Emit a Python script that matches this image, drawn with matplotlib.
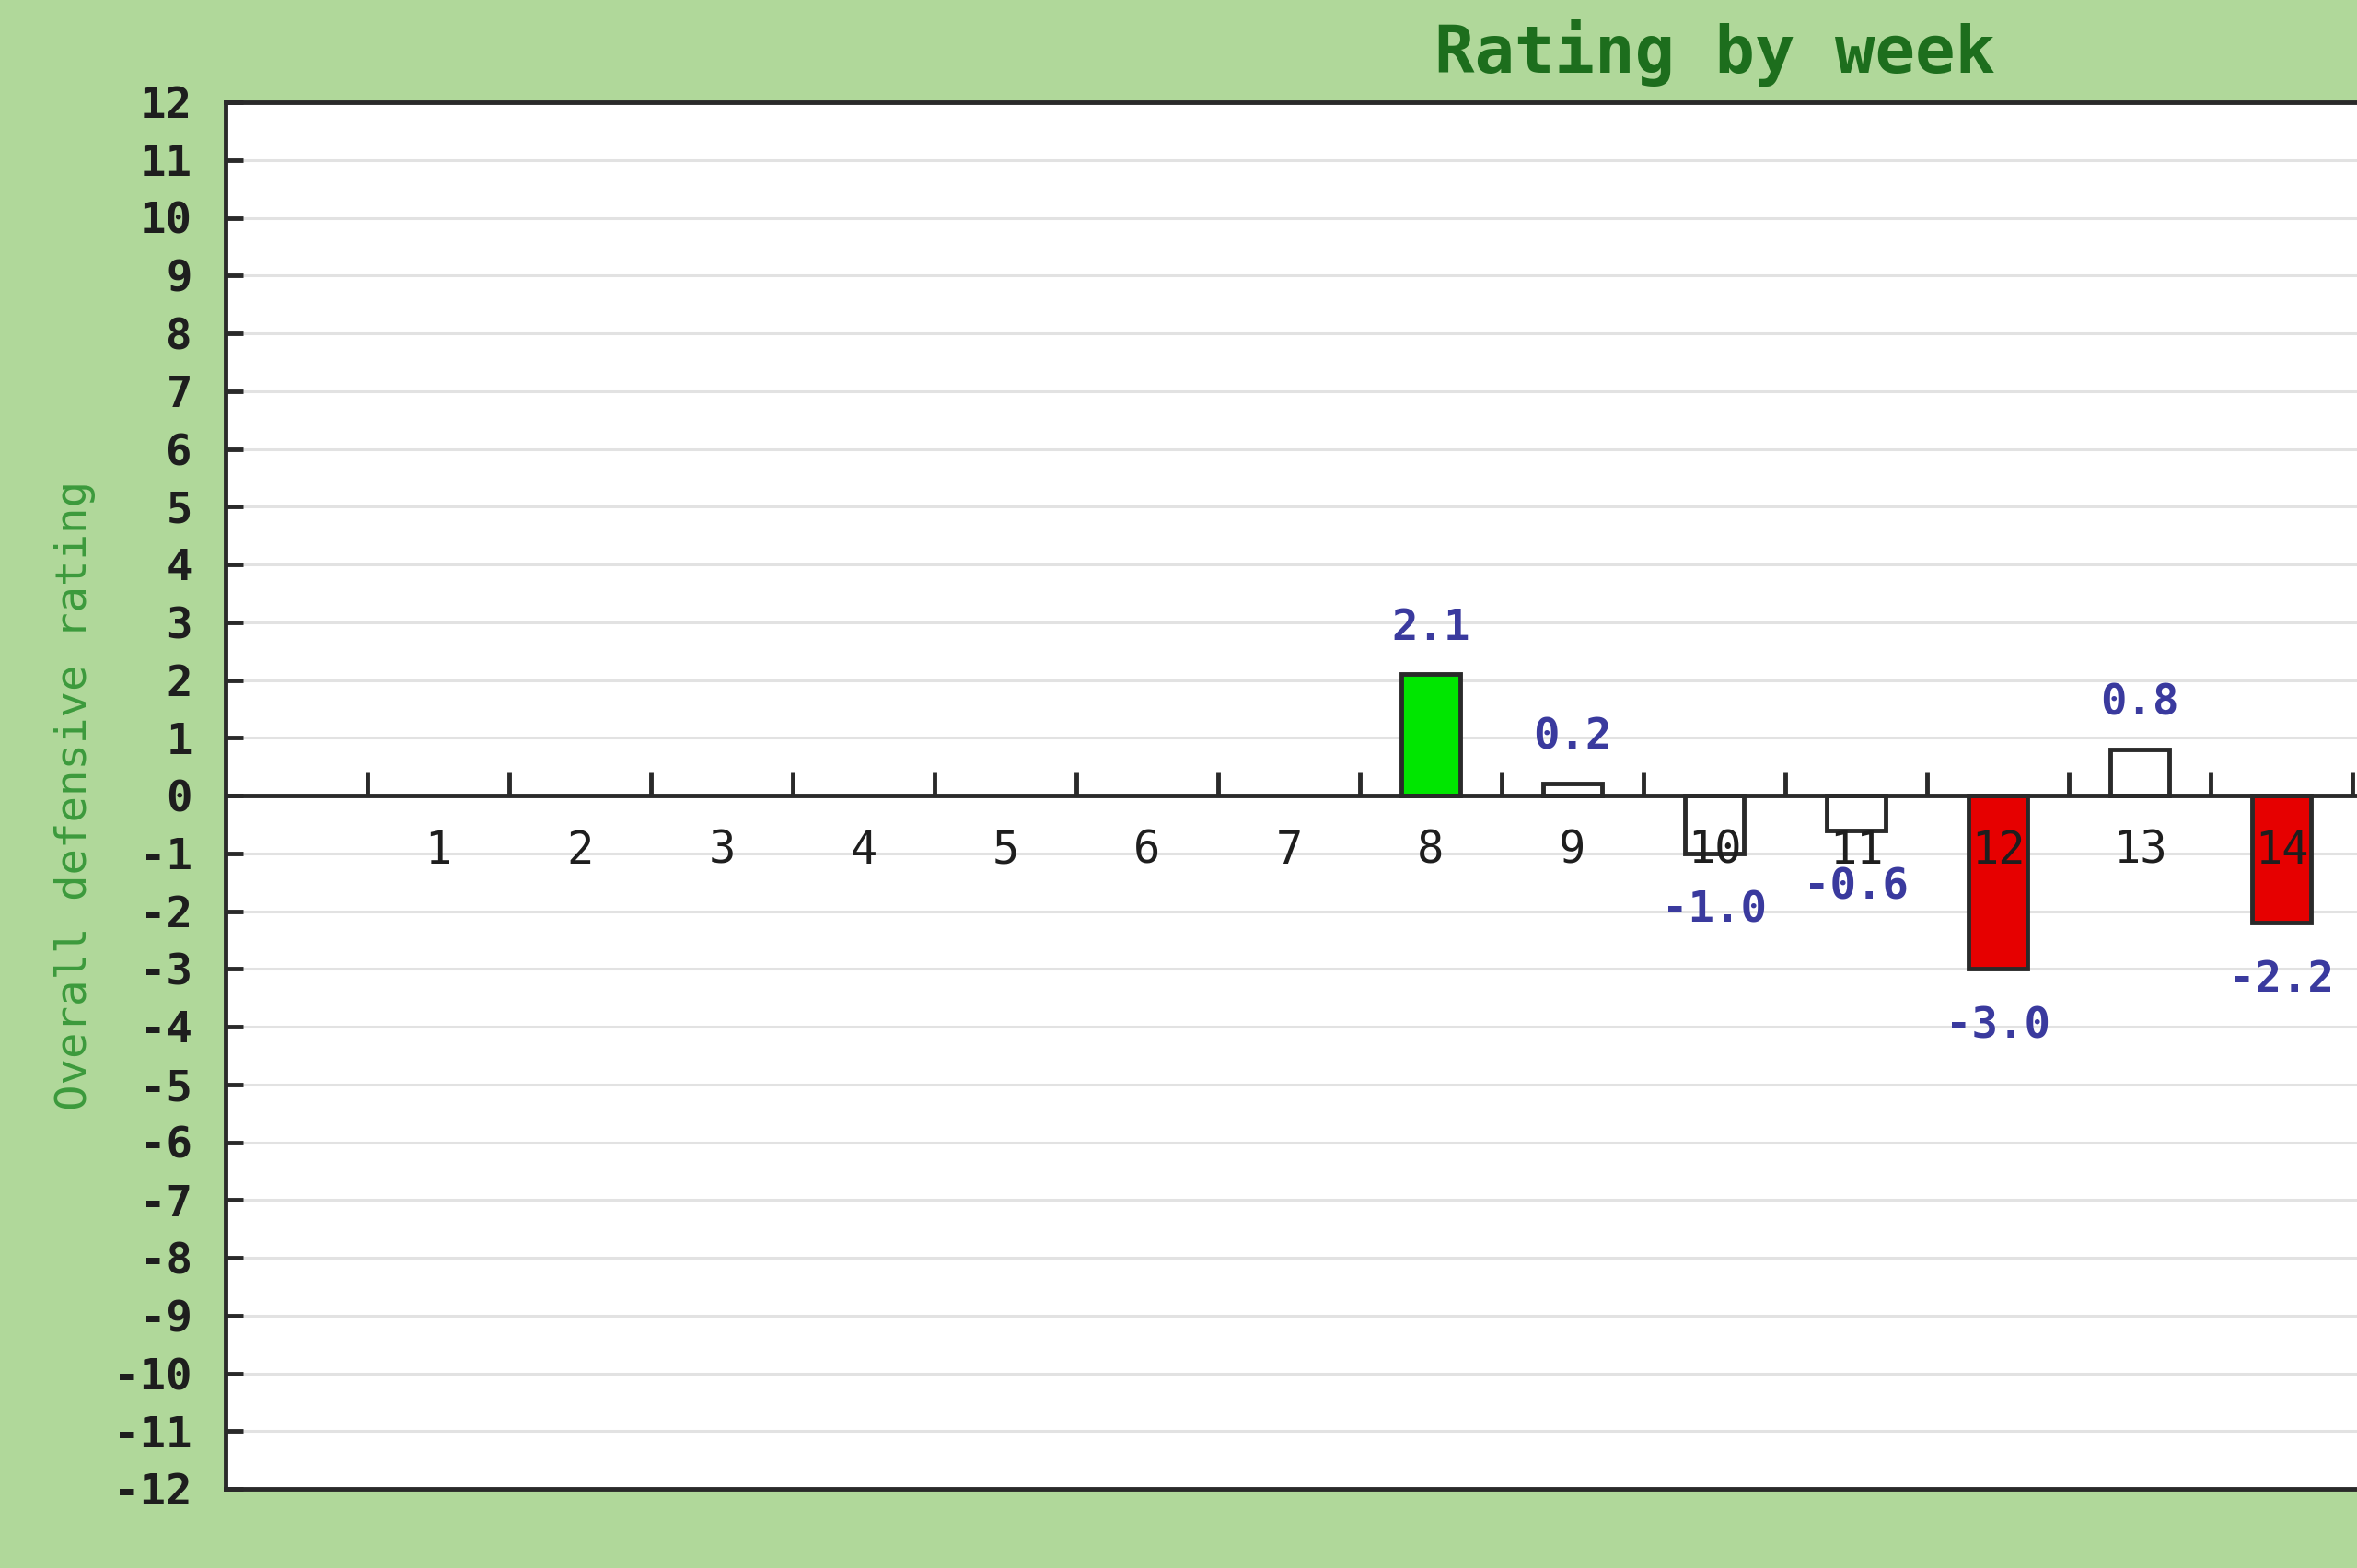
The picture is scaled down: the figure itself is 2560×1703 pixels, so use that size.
import matplotlib
matplotlib.use("Agg")
import matplotlib.pyplot as plt
import numpy as np

# weekly ratings (weeks 1-7 no game rated)
weeks = [1, 2, 3, 4, 5, 6, 7, 8, 9, 10, 11, 12, 13, 14]
ratings = [None, None, None, None, None, None, None, 2.1, 0.2, -1.0, -0.6, -3.0, 0.8, -2.2]
bar_colors = ["white"] * 7 + ["#00e600", "white", "white", "white", "#e60000", "white", "#e60000"]
n_slots = 21

bg = "#b0d89a"
mono = "DejaVu Sans Mono"

fig = plt.figure(figsize=(25.6, 17.03), dpi=100, facecolor=bg)
# axes is wider than the figure: the chart continues past the right edge
ax = fig.add_axes([245/2560, 86/1703, 154*n_slots/2560, 1506/1703])
ax.set_facecolor("white")

ax.set_xlim(-0.5, n_slots - 0.5)
ax.set_ylim(-12, 12)

for y in range(-11, 12):
    ax.axhline(y, color="#e2e2e2", lw=2.2, zorder=0)

xs = [w for w, r in zip(weeks, ratings) if r is not None]
vals = [r for r in ratings if r is not None]
cols = [c for c, r in zip(bar_colors, ratings) if r is not None]
ax.bar(xs, vals, width=0.42, color=cols, edgecolor="#2a2a2a", linewidth=3.5, zorder=2)

ax.axhline(0, color="#2a2a2a", lw=3.5, zorder=3)
ax.vlines(np.arange(0.5, n_slots - 0.5, 1), 0, 0.4, color="#2a2a2a", lw=3.5, zorder=3)

for w in weeks:
    ax.text(w, -0.95, str(w), ha="center", va="center", fontsize=35,
            family=mono, color="#1e1e1e", zorder=4)

for x, v in zip(xs, vals):
    yy = v + 0.8 if v > 0 else v - 1.0
    ax.text(x, yy, f"{v:.1f}", ha="center", va="center", fontsize=34,
            family=mono, color="#3a3a9e", fontweight="bold", zorder=4)

ax.set_xticks([])
ax.set_yticks(range(-12, 13))
ax.set_yticklabels([str(v) for v in range(-12, 13)], family=mono, fontsize=34,
                   fontweight="bold", color="#1e1e1e")
ax.tick_params(axis="y", direction="in", length=14, width=3.5, color="#2a2a2a", pad=26)
for s in ax.spines.values():
    s.set_linewidth(3.5)
    s.set_color("#2a2a2a")

ax.set_ylabel("Overall defensive rating", family=mono, fontsize=34,
              color="#3c9a3c", labelpad=14)

fig.text(1862/2560, 1 - 57/1703, "Rating by week", ha="center", va="center",
         family=mono, fontsize=52, fontweight="bold", color="#1d6e1d")

fig.savefig("out.png", dpi=100, facecolor=bg)
